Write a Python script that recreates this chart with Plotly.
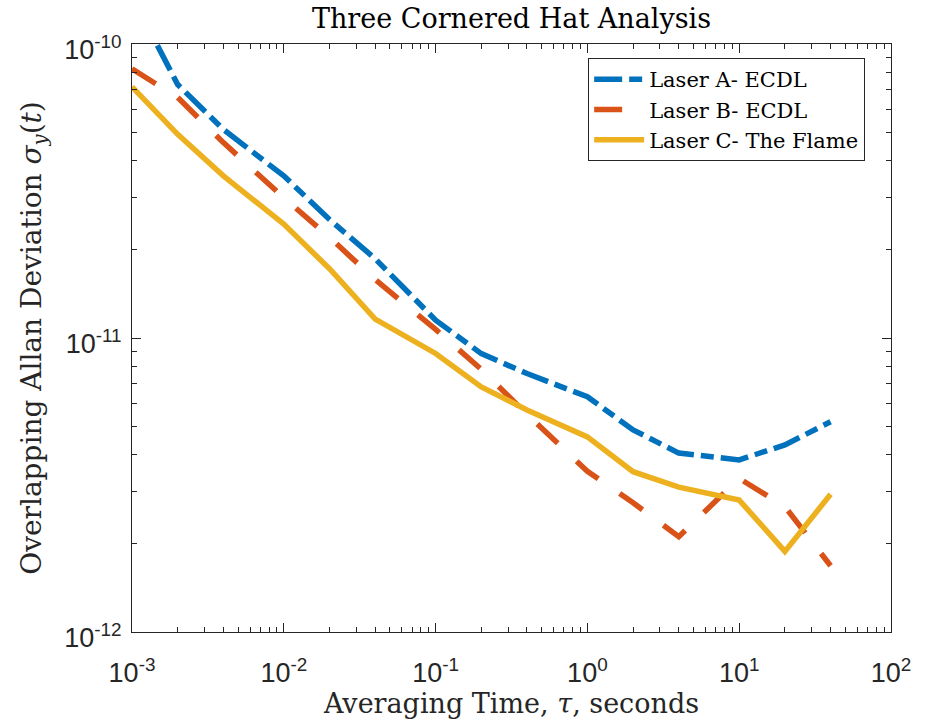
import plotly.graph_objects as go

tau = [0.001, 0.002, 0.004, 0.01, 0.02, 0.04, 0.1, 0.2, 0.4, 1, 2, 4, 10, 20, 40]

laser_a = [1.45e-10, 7.28e-11, 5.12e-11, 3.56e-11, 2.53e-11, 1.86e-11, 1.15e-11, 8.85e-12,
           7.57e-12, 6.31e-12, 4.87e-12, 4.06e-12, 3.85e-12, 4.33e-12, 5.19e-12]
laser_b = [8.23e-11, 6.58e-11, 4.62e-11, 3.00e-11, 2.20e-11, 1.58e-11, 1.07e-11, 7.82e-12,
           5.50e-12, 3.52e-12, 2.75e-12, 2.11e-12, 3.33e-12, 2.67e-12, 1.68e-12]
laser_c = [7.15e-11, 4.93e-11, 3.56e-11, 2.44e-11, 1.72e-11, 1.16e-11, 8.86e-12, 6.82e-12,
           5.69e-12, 4.61e-12, 3.51e-12, 3.11e-12, 2.81e-12, 1.88e-12, 2.94e-12]

names = ["Laser A- ECDL", "Laser B- ECDL", "Laser C- The Flame"]
colors = ["#0072BD", "#D95319", "#EDB120"]
dashes = ["28px,7px,13px,7px", "28px,26px", "solid"]

x_tickvals = [1e-3, 1e-2, 1e-1, 1e0, 1e1, 1e2]
x_ticktext = ["10<sup>-3</sup>", "10<sup>-2</sup>", "10<sup>-1</sup>", "10<sup>0</sup>",
              "10<sup>1</sup>", "10<sup>2</sup>"]
y_tickvals = [1e-12, 1e-11, 1e-10]
y_ticktext = ["10<sup>-12</sup>", "10<sup>-11</sup>", "10<sup>-10</sup>"]

SERIF = "DejaVu Serif, Liberation Serif, serif"

fig = go.Figure()
for ys, nm, c, d in zip([laser_a, laser_b, laser_c], names, colors, dashes):
    fig.add_trace(go.Scatter(x=tau, y=ys, mode="lines", name=nm,
                             line=dict(color=c, width=5.5, dash=d)))

axis_common = dict(
    type="log", showline=True, linecolor="#262626", linewidth=1, mirror="ticks",
    ticks="inside", ticklen=9, tickcolor="#262626", tickwidth=1,
    showgrid=False, zeroline=False, tickmode="array",
    tickfont=dict(family="Liberation Sans, Arial, sans-serif", size=27, color="#262626"),
    minor=dict(ticks="inside", ticklen=5, tickcolor="#262626", dtick="D1", showgrid=False),
)

fig.update_layout(
    width=925, height=721,
    margin=dict(l=132, r=34, t=44, b=87),
    paper_bgcolor="white", plot_bgcolor="white",
    title=dict(text="Three Cornered Hat Analysis", xref="paper", x=0.5, xanchor="center",
               yref="container", y=0.974, yanchor="middle",
               font=dict(family=SERIF, size=27, color="black")),
    xaxis=dict(axis_common, range=[-3, 2], tickvals=x_tickvals, ticktext=x_ticktext,
               ticklabelstandoff=17,
               title=dict(text="Averaging Time, <i>τ</i>, seconds", standoff=2,
                          font=dict(family=SERIF, size=27, color="#262626"))),
    yaxis=dict(axis_common, range=[-12, -10], tickvals=y_tickvals, ticktext=y_ticktext,
               ticklabelstandoff=4, ticklabelshift=6,
               title=dict(text="Overlapping Allan Deviation <i>σ</i><sub><i>y</i></sub>(<i>t</i>)",
                          standoff=14,
                          font=dict(family=SERIF, size=28, color="#262626"))),
    legend=dict(x=0.601, y=0.976, xanchor="left", yanchor="top",
                bgcolor="white", bordercolor="#262626", borderwidth=1,
                font=dict(family=SERIF, size=21, color="black"),
                tracegroupgap=0, itemwidth=50),
    showlegend=True,
)

fig.write_html("out.html")
